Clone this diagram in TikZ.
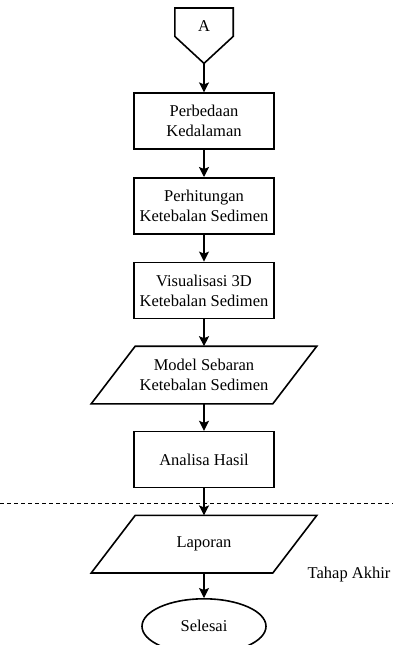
\documentclass[tikz,border=0pt]{standalone}
\usepackage{fontspec}
\setmainfont{Liberation Serif}
\usetikzlibrary{positioning,arrows.meta,shapes.geometric}

\begin{document}
\begin{tikzpicture}[
  node distance = 27pt,
  box/.style = {draw, line width=1.6pt, align=center, minimum height=56pt,
                minimum width=140pt, inner sep=1pt, font=\fontsize{16.5}{20}\selectfont},
  io/.style  = {box, draw=none, minimum width=180pt},
  conn/.style = {minimum width=58pt, minimum height=28pt, inner sep=0pt, text height=18pt,
                 font=\fontsize{16.5}{20}\selectfont},
  term/.style = {draw, line width=1.6pt, ellipse, minimum width=124pt, minimum height=55pt,
                 inner sep=0pt, font=\fontsize{16.5}{20}\selectfont},
  arr/.style = {-{Stealth[length=10pt, width=10pt, inset=2pt]}, line width=1.3pt},
  lbl/.style = {font=\fontsize{16.5}{20}\selectfont},
  sep/.style = {dashed, line width=1pt, dash pattern=on 4pt off 3pt}
]
  \useasboundingbox (0pt,0pt) rectangle (393pt,-645pt);

  % off-page connector
  \node[conn, anchor=north] (a) at (204pt,-8pt) {A};
  \draw[line width=1.6pt] (a.south west) -- (a.north west) -- (a.north east)
    -- (a.south east) -- ([yshift=-27pt]a.south) coordinate (atip) -- cycle;

  \node[box, below=29pt of atip] (beda)    {Perbedaan\\Kedalaman};
  \node[box, below=of beda]      (hitung)  {Perhitungan\\Ketebalan Sedimen};
  \node[box, below=of hitung]    (visual)  {Visualisasi 3D\\Ketebalan Sedimen};
  \node[io, below=of visual]     (model)   {Model Sebaran\\Ketebalan Sedimen};
  \node[box, below=of model]     (analisa) {Analisa Hasil};
  \node[io, below=of analisa]    (laporan) {Laporan};
  \node[term, below=25pt of laporan] (selesai) {Selesai};
  \node[lbl] (tahap) at (349pt,-575pt) {Tahap Akhir};

  % parallelogram outlines
  \foreach \n in {model,laporan}
    \draw[line width=1.6pt] ([xshift=22pt]\n.north west) -- ([xshift=22pt]\n.north east)
      -- ([xshift=-22pt]\n.south east) -- ([xshift=-22pt]\n.south west) -- cycle;

  \draw[sep] (0pt,-503pt) -- (393pt,-503pt);

  \draw[arr] (atip)    -- (beda);
  \draw[arr] (beda)    -- (hitung);
  \draw[arr] (hitung)  -- (visual);
  \draw[arr] (visual)  -- (model);
  \draw[arr] (model)   -- (analisa);
  \draw[arr] (analisa) -- (laporan);
  \draw[arr] (laporan) -- (selesai);
\end{tikzpicture}
\end{document}
